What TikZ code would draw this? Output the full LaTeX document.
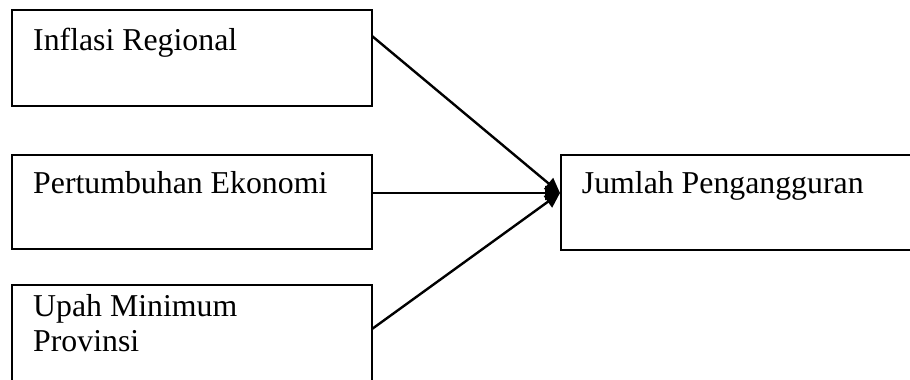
\documentclass[tikz,border=0pt]{standalone}
\usepackage{fontspec}
\setmainfont{Liberation Serif}
\usetikzlibrary{arrows.meta}
\begin{document}
\begin{tikzpicture}[x=1pt,y=-1pt,
  box/.style={draw=black,line width=2.2pt},
  lbl/.style={anchor=base west,inner sep=0pt,font=\fontsize{31.8}{35}\selectfont},
  link/.style={line width=2.4pt,-{Triangle[length=15pt,width=14pt]}}]
\useasboundingbox (0,0) rectangle (910,380);
% variable boxes (lower and right boxes run past the frame)
\draw[box] (12,10) rectangle (372,106);
\draw[box] (12,155) rectangle (372,249);
\draw[box] (12,390) -- (12,285) -- (372,285) -- (372,390);
\draw[box] (920,155) -- (561,155) -- (561,250) -- (920,250);
% labels
\node[lbl] (infl) at (33,50) {Inflasi Regional};
\node[lbl] (tumb) at (33,193) {Pertumbuhan Ekonomi};
\node[lbl] (upah) at (33,316.7) {Upah Minimum};
\node[lbl] (prov) at (33,351.7) {Provinsi};
\node[lbl] (juml) at (581.7,193) {Jumlah Pengangguran};
% connector end points
\coordinate (s1) at (372,36);
\coordinate (s2) at (372,193);
\coordinate (s3) at (372,329);
\coordinate (t) at (560,193);
\draw[link] (s1) -- (t);
\draw[link] (s2) -- (t);
\draw[link] (s3) -- (t);
\end{tikzpicture}
\end{document}
